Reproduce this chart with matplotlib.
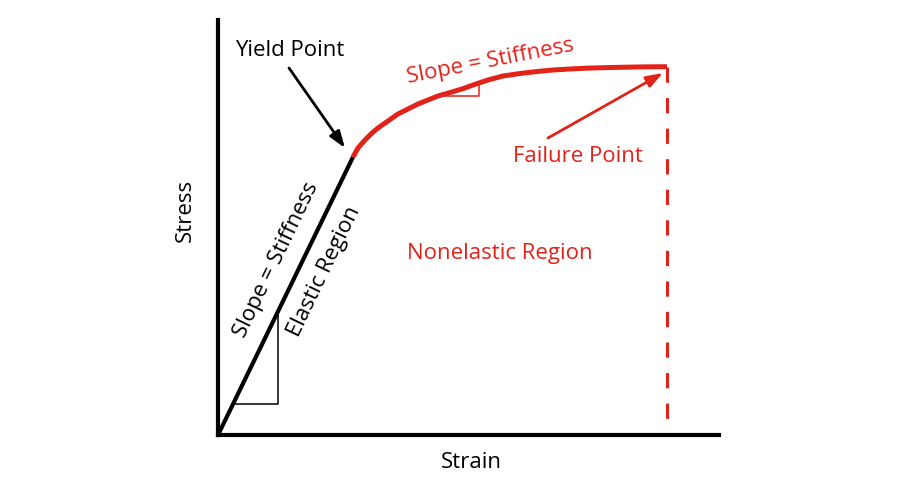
import matplotlib
matplotlib.use("Agg")
import matplotlib.pyplot as plt

# Data (arbitrary units)
elastic_strain = [0, 135]
elastic_stress = [0, 278]
plastic_strain = [135, 140, 147, 154, 160, 170, 180, 190, 200, 210, 220, 234, 247, 255,
                  270, 285, 302, 319, 335, 352, 368, 385, 402, 419, 435, 449]
plastic_stress = [278, 287, 295, 302, 307, 314, 321, 326, 331, 335, 339, 343, 347, 350,
                  355, 359, 361.5, 363.5, 365, 366, 366.8, 367.3, 367.7, 368, 368.2, 368.3]
failure_strain = 449
failure_stress = 368.3
elastic_tri_x = [17, 60, 60]
elastic_tri_y = [31, 31, 124]
plastic_tri_x = [222, 261, 261]
plastic_tri_y = [339, 339, 352]

RED = '#e2231a'
plt.rcParams['font.family'] = ['Open Sans', 'DejaVu Sans']

fig = plt.figure(figsize=(9, 4.8), dpi=100)
ax = fig.add_axes([218/900, 45/480, 501/900, 415/480])
ax.set_xlim(0, 501)
ax.set_ylim(0, 415)
for s in ['top', 'right']:
    ax.spines[s].set_visible(False)
for s in ['left', 'bottom']:
    ax.spines[s].set_linewidth(3)
ax.set_xticks([])
ax.set_yticks([])

# triangles
ax.plot(elastic_tri_x, elastic_tri_y, color='black', lw=1.1, zorder=2)
ax.plot(plastic_tri_x, plastic_tri_y, color=RED, lw=1.1, zorder=2)

# curves
ax.plot(elastic_strain, elastic_stress, color='black', lw=3, solid_capstyle='butt', zorder=3, clip_on=False)
ax.plot(plastic_strain, plastic_stress, color=RED, lw=3.6, solid_joinstyle='round', solid_capstyle='butt', zorder=3, clip_on=False)
ax.plot([failure_strain, failure_strain], [failure_stress, 15], color=RED, lw=2.2,
        dashes=(5, 5), zorder=3)

# arrows
ax.annotate('', xy=(127, 287), xytext=(71, 367),
            arrowprops=dict(arrowstyle='-|>,head_length=1.0,head_width=0.35', color='black', lw=2, shrinkA=0, shrinkB=0))
ax.annotate('', xy=(445, 362), xytext=(330, 297),
            arrowprops=dict(arrowstyle='-|>,head_length=1.0,head_width=0.35', color=RED, lw=2, shrinkA=0, shrinkB=0))

# texts
FS = 16
ax.text(72, 385, 'Yield Point', ha='center', va='center', fontsize=FS, color='black')
ax.text(360, 278, 'Failure Point', ha='center', va='center', fontsize=FS, color=RED)
ax.text(282, 181, 'Nonelastic Region', ha='center', va='center', fontsize=FS, color=RED)
ax.text(58, 175, 'Slope = Stiffness', ha='center', va='center', fontsize=FS, color='black',
        rotation=64.3, rotation_mode='anchor')
ax.text(106, 163, 'Elastic Region', ha='center', va='center', fontsize=FS, color='black',
        rotation=64.3, rotation_mode='anchor')
ax.text(272, 374, 'Slope = Stiffness', ha='center', va='center', fontsize=FS, color=RED,
        rotation=11, rotation_mode='anchor')
ax.text(-33, 225, 'Stress', ha='center', va='center', fontsize=FS, color='black', rotation=90)
ax.text(253, -28, 'Strain', ha='center', va='center', fontsize=FS, color='black')

fig.savefig('out.png', dpi=100)
